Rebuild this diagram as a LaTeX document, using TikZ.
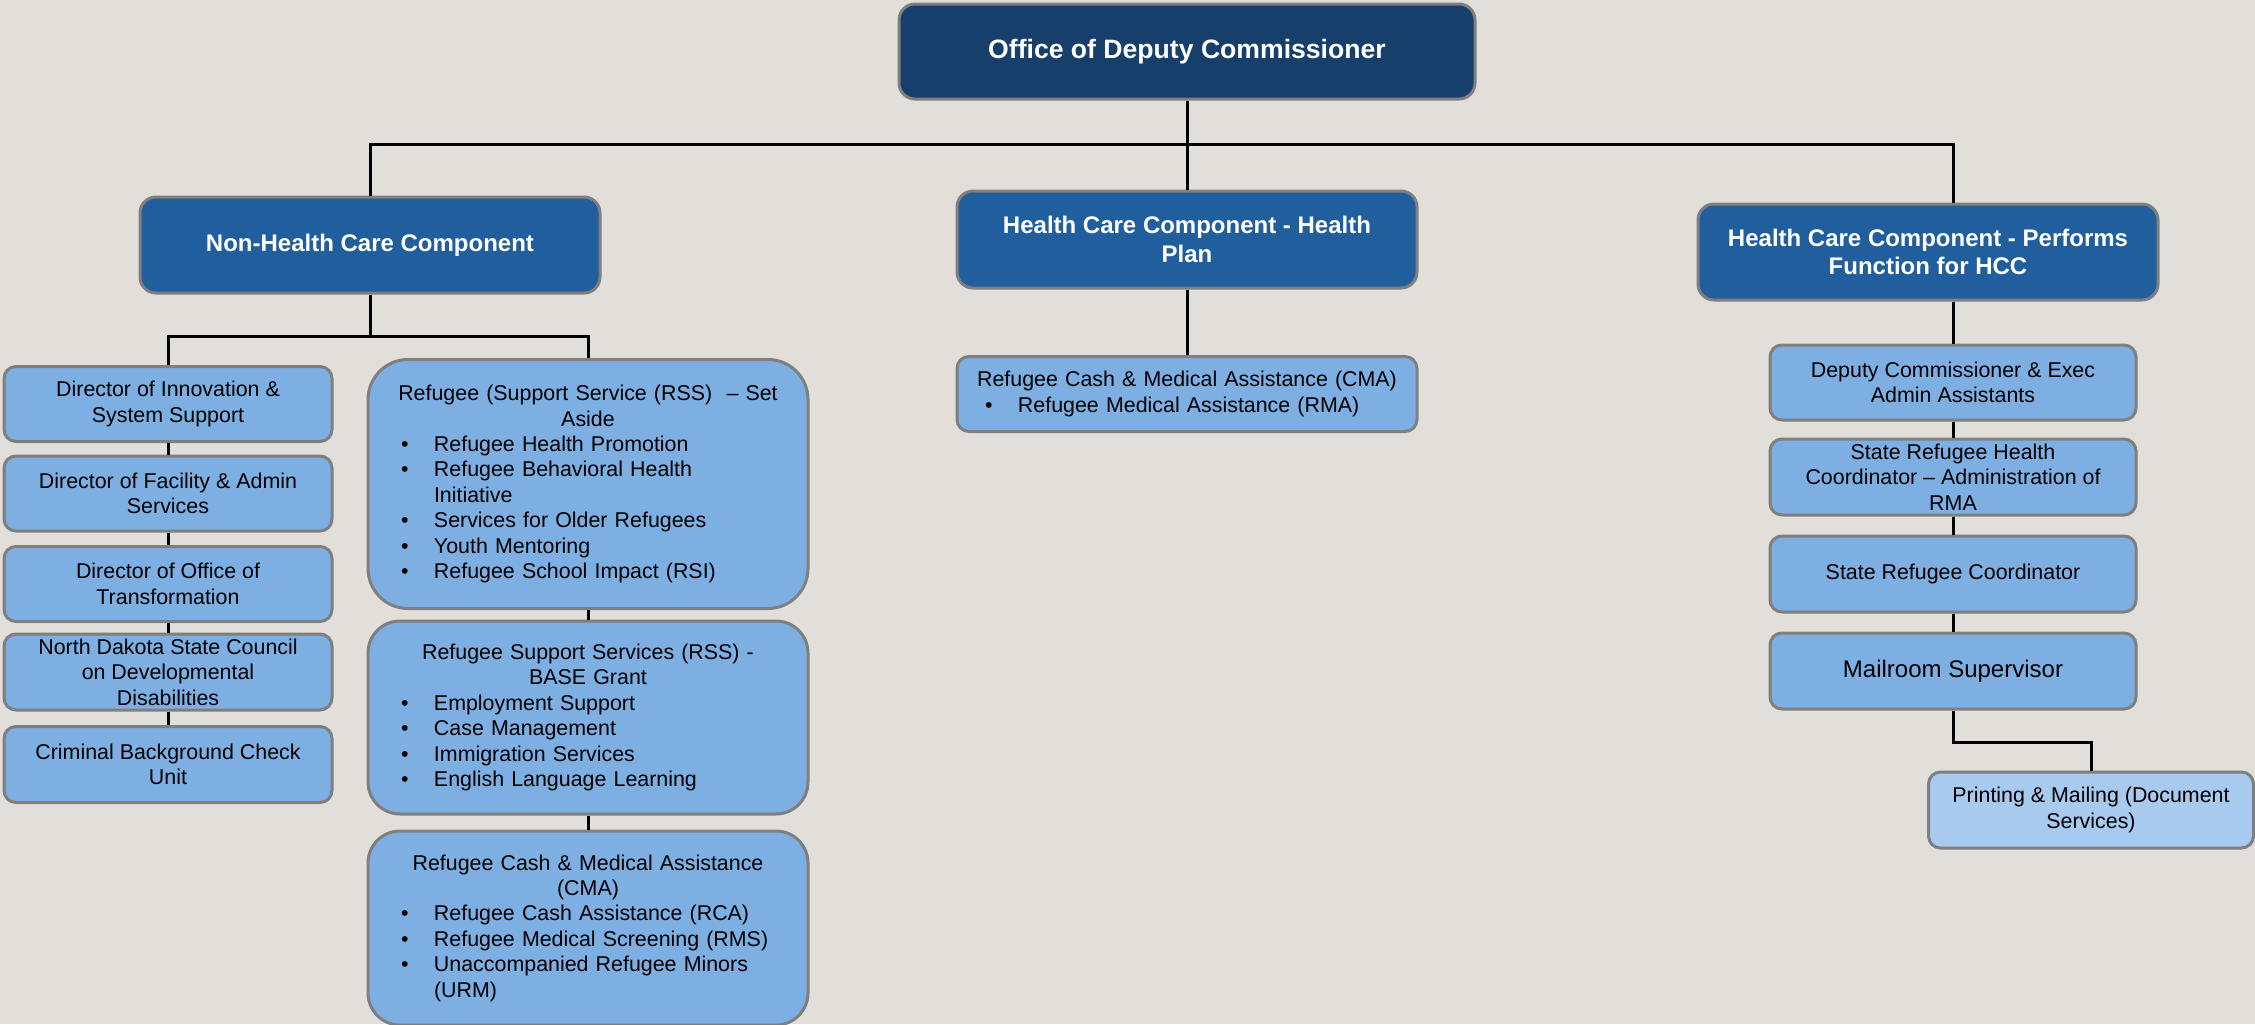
\documentclass[tikz,border=0pt]{standalone}
\usepackage{fontspec}
\setmainfont{Liberation Sans}

\definecolor{bgcol}{HTML}{E2DFDA}
\definecolor{navy}{HTML}{173F6B}
\definecolor{midblue}{HTML}{205E9E}
\definecolor{lightblue}{HTML}{7DAFE3}
\definecolor{paleblue}{HTML}{A8CAEE}
\definecolor{boxline}{HTML}{7F7F7F}

% bullet line with hanging indent
\newcommand{\itm}[2][8.5pt]{\par\noindent\hangindent=\dimexpr#1+16.5pt\relax\hangafter=1\hspace*{#1}\makebox[16.5pt][l]{\textbullet}#2}

\begin{document}
\begin{tikzpicture}[x=0.5pt, y=-0.5pt,
    conn/.style={line width=1.5pt, draw=black},
    box/.style={draw=boxline, line width=1.5pt, rounded corners=6pt, inner xsep=4pt, inner ysep=0pt},
    topbox/.style={box, fill=navy, text=white, rounded corners=8pt, font=\bfseries\fontsize{13.3}{16}\selectfont},
    headbox/.style={box, fill=midblue, text=white, rounded corners=8pt, align=center, font=\bfseries\fontsize{12}{14.2}\selectfont, minimum width=230pt, minimum height=48pt},
    unitbox/.style={box, fill=lightblue, align=center, font=\fontsize{10.7}{12.7}\selectfont},
    leftbox/.style={unitbox, minimum width=164pt, minimum height=37.5pt},
    rightbox/.style={unitbox, minimum width=183pt, minimum height=38pt},
    listbox/.style={box, fill=lightblue, inner xsep=8pt, font=\fontsize{10.7}{12.7}\selectfont}]

    % page
    \fill[bgcol] (0,0) rectangle (2255,1024);
    \useasboundingbox (0,0) rectangle (2255,1024);

    % top and the three components
    \node[topbox, minimum width=288pt, minimum height=47.5pt] (odc) at (1187,51.5) {Office of Deputy Commissioner};
    \node[headbox] (nhc) at (370,245) {Non-Health Care Component};
    \node[headbox, minimum height=48.5pt] (hp) at (1187,239.5) {Health Care Component - Health\\Plan};
    \node[headbox] (pf) at (1928,252) {Health Care Component - Performs\\Function for HCC};

    % non-health, left column
    \node[leftbox] (inno) at (168,404) {Director of Innovation \&\\System Support};
    \node[leftbox] (fac) at (168,493.5) {Director of Facility \& Admin\\Services};
    \node[leftbox] (trans) at (168,584) {Director of Office of\\Transformation};
    \node[leftbox, minimum height=38pt] (ndsc) at (168,672) {North Dakota State Council\\on Developmental\\Disabilities};
    \node[leftbox, minimum height=38pt] (cbc) at (168,764.5) {Criminal Background Check\\Unit};

    % non-health, refugee programs
    \node[listbox, text width=204pt, minimum height=124.5pt, rounded corners=20pt] (rss) at (588,484) {\centering
        Refugee (Support Service (RSS)\ \ -- Set\\Aside\par\raggedright
        \itm{Refugee Health Promotion}
        \itm{Refugee Behavioral Health\newline Initiative}
        \itm{Services for Older Refugees}
        \itm{Youth Mentoring}
        \itm{Refugee School Impact (RSI)}\par};
    \node[listbox, text width=204pt, minimum height=96.5pt, rounded corners=16pt] (base) at (588,717.5) {\centering
        Refugee Support Services (RSS) -\\BASE Grant\par\raggedright
        \itm{Employment Support}
        \itm{Case Management}
        \itm{Immigration Services}
        \itm{English Language Learning}\par};
    \node[listbox, text width=204pt, minimum height=97pt, rounded corners=16pt] (cma) at (588,928) {\centering
        Refugee Cash \& Medical Assistance\\(CMA)\par\raggedright
        \itm{Refugee Cash Assistance (RCA)}
        \itm{Refugee Medical Screening (RMS)}
        \itm{Unaccompanied Refugee Minors\newline (URM)}\par};

    % health plan
    \node[listbox, text width=214pt, minimum height=37.5pt] (hpcma) at (1187,394) {\centering
        Refugee Cash \& Medical Assistance (CMA)\par\raggedright
        \itm[6pt]{Refugee Medical Assistance (RMA)}\par};

    % performs function for HCC
    \node[rightbox, minimum height=37.5pt] (dc) at (1953,382.5) {Deputy Commissioner \& Exec\\Admin Assistants};
    \node[rightbox] (srh) at (1953,477) {State Refugee Health\\Coordinator -- Administration of\\RMA};
    \node[rightbox] (src) at (1953,574) {State Refugee Coordinator};
    \node[rightbox, font=\fontsize{12}{14}\selectfont] (mail) at (1953,671) {Mailroom Supervisor};
    \node[unitbox, fill=paleblue, minimum width=162.5pt, minimum height=38pt] (print) at (2091,810) {Printing \& Mailing (Document\\Services)};

    % main bus
    \coordinate (bus) at (0,144);
    \draw[conn] (odc.south) -- (odc.south |- bus);
    \draw[conn] (nhc.north) |- (dc |- bus) -- (dc |- pf.north);
    \draw[conn] (hp.north) -- (hp.north |- bus);

    % non-health branch
    \coordinate (sub) at (0,336.5);
    \draw[conn] (nhc.south) -- (nhc.south |- sub);
    \draw[conn] (inno.north) |- (rss.north |- sub) -- (rss.north);
    \foreach \a/\b in {inno/fac, fac/trans, trans/ndsc, ndsc/cbc, rss/base, base/cma}
        \draw[conn] (\a.south) -- (\b.north);

    % health plan branch
    \draw[conn] (hp.south) -- (hpcma.north);

    % right branch
    \draw[conn] (dc |- pf.south) -- (dc.north);
    \foreach \a/\b in {dc/srh, srh/src, src/mail}
        \draw[conn] (\a.south) -- (\b.north);
    \coordinate (elbow) at (0,742);
    \draw[conn] (mail.south) -- (mail.south |- elbow) -| (print.north);
\end{tikzpicture}
\end{document}
